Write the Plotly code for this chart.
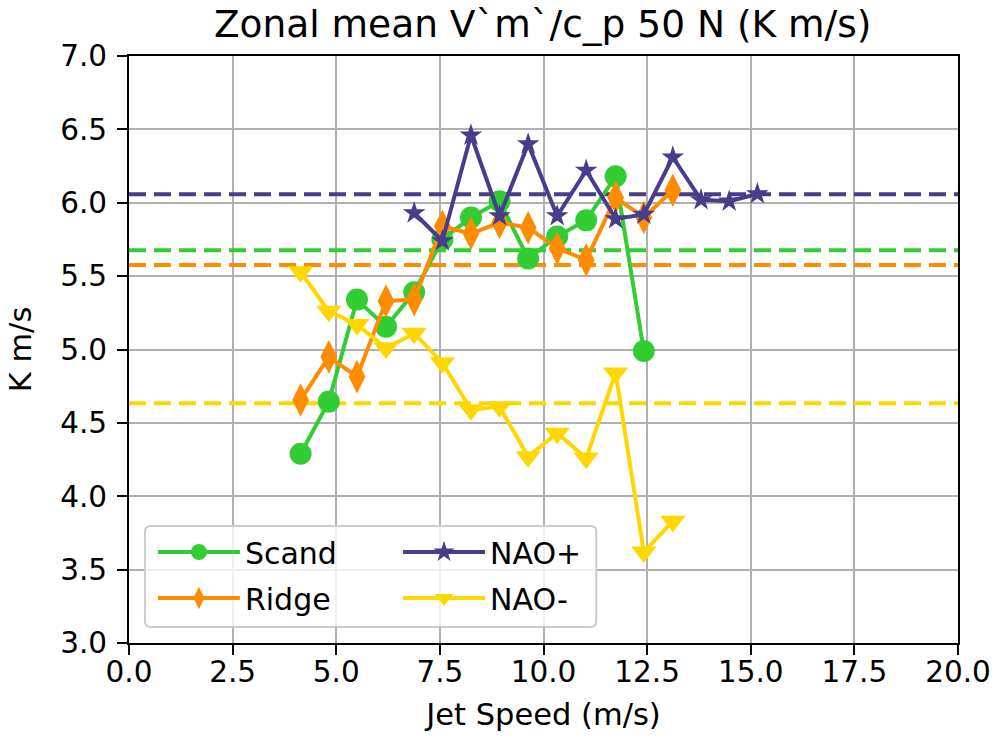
import plotly.graph_objects as go

# Jet-speed bin centres (m/s)
jet_speed = [4.14, 4.82, 5.50, 6.20, 6.88, 7.56, 8.25, 8.94, 9.63,
             10.33, 11.03, 11.74, 12.42, 13.12, 13.80, 14.48, 15.16]

# Zonal mean V'm'/c_p at 50N per regime (K m/s)
scand = [4.29, 4.645, 5.34, 5.155, 5.39, 5.75, 5.90, 6.01, 5.62, 5.77, 5.88, 6.18, 4.99]
ridge = [4.656, 4.95, 4.815, 5.33, 5.34, 5.84, 5.79, 5.865, 5.83, 5.69, 5.61, 6.035, 5.90, 6.085]
nao_plus = [5.93, 5.74, 6.46, 5.91, 6.40, 5.91, 6.22, 5.89, 5.92, 6.31, 6.02, 6.01, 6.06]
nao_minus = [5.53, 5.26, 5.17, 5.01, 5.11, 4.91, 4.59, 4.61, 4.27, 4.43, 4.26, 4.84, 3.62, 3.83]

# Regime means (dashed reference lines)
regime_means = {"Scand": 5.677, "Ridge": 5.575, "NAO+": 6.058, "NAO-": 4.634}

x_range = [0, 20]
y_range = [3.0, 7.0]

colors = {"Scand": "#32CD32", "Ridge": "#FF8C00", "NAO+": "#483D8B", "NAO-": "#FFD700"}

FONT = "DejaVu Sans"
fig = go.Figure()

# Mean lines spanning the full axis width
for name in ["Scand", "Ridge", "NAO+", "NAO-"]:
    fig.add_trace(go.Scatter(
        x=x_range, y=[regime_means[name]] * 2, mode="lines",
        line=dict(color=colors[name], width=4, dash="17px,8px"),
        showlegend=False, hoverinfo="skip"))

series = [
    ("Scand", jet_speed[:13], scand, "circle", 22, "legend", 1),
    ("Ridge", jet_speed[:14], ridge, "diamond-tall", 24, "legend", 2),
    ("NAO+", jet_speed[4:17], nao_plus, "star", 17, "legend2", 3),
    ("NAO-", jet_speed[:14], nao_minus, "triangle-down", 22, "legend2", 4),
]
for name, xs, ys, sym, size, leg, rank in series:
    fig.add_trace(go.Scatter(
        x=xs, y=ys, mode="lines+markers", name=name,
        line=dict(color=colors[name], width=4),
        marker=dict(symbol=sym, size=size, color=colors[name], line=dict(width=0)),
        legend=leg, legendrank=rank, legendgroup=name))

axis_common = dict(
    showline=True, linecolor="black", linewidth=2, mirror=True,
    ticks="outside", ticklen=10, tickwidth=2, tickcolor="black",
    showgrid=True, gridcolor="#b0b0b0", gridwidth=2, zeroline=False,
    tickfont=dict(family=FONT, size=29.5, color="black"),
)

# Rounded legend frame
lx0, lx1 = (145 - 129) / 832, (598 - 129) / 832
ly0, ly1 = (643 - 627) / 587, (643 - 526) / 587
rx, ry = 6 / 832, 6 / 587
frame = (f"M{lx0+rx},{ly0} L{lx1-rx},{ly0} Q{lx1},{ly0} {lx1},{ly0+ry} "
         f"L{lx1},{ly1-ry} Q{lx1},{ly1} {lx1-rx},{ly1} L{lx0+rx},{ly1} "
         f"Q{lx0},{ly1} {lx0},{ly1-ry} L{lx0},{ly0+ry} Q{lx0},{ly0} {lx0+rx},{ly0} Z")

legend_common = dict(
    bgcolor="rgba(0,0,0,0)", borderwidth=0, orientation="v",
    font=dict(family=FONT, size=30, color="black"),
    itemwidth=82, tracegroupgap=4, yanchor="top", xanchor="left",
)

fig.update_layout(
    width=1003, height=744,
    margin=dict(l=129, r=42, t=56, b=101),
    plot_bgcolor="white", paper_bgcolor="white",
    title=dict(text="Zonal mean V`m`/c_p 50 N (K m/s)", x=0.541, xanchor="center",
               y=1 - 24 / 744, yanchor="middle", yref="container",
               font=dict(family=FONT, size=37.5, color="black")),
    xaxis=dict(range=x_range, dtick=2.5, tick0=0, tickformat=".1f",
               ticklabelstandoff=-8,
               title=dict(text="Jet Speed (m/s)", font=dict(family=FONT, size=30.5, color="black"),
                          standoff=15),
               **axis_common),
    yaxis=dict(range=y_range, dtick=0.5, tick0=3, tickformat=".1f",
               ticklabelstandoff=4,
               title=dict(text="K m/s", font=dict(family=FONT, size=30.5, color="black"),
                          standoff=20),
               **axis_common),
    legend=dict(x=(153 - 129) / 832, y=(643 - 526) / 587, **legend_common),
    legend2=dict(x=(399 - 129) / 832, y=(643 - 526) / 587, **legend_common),
    shapes=[dict(type="path", path=frame, xref="paper", yref="paper",
                 fillcolor="rgba(255,255,255,0.8)", line=dict(color="#cccccc", width=2),
                 layer="above")],
    showlegend=True,
)

fig.write_html("out.html")
